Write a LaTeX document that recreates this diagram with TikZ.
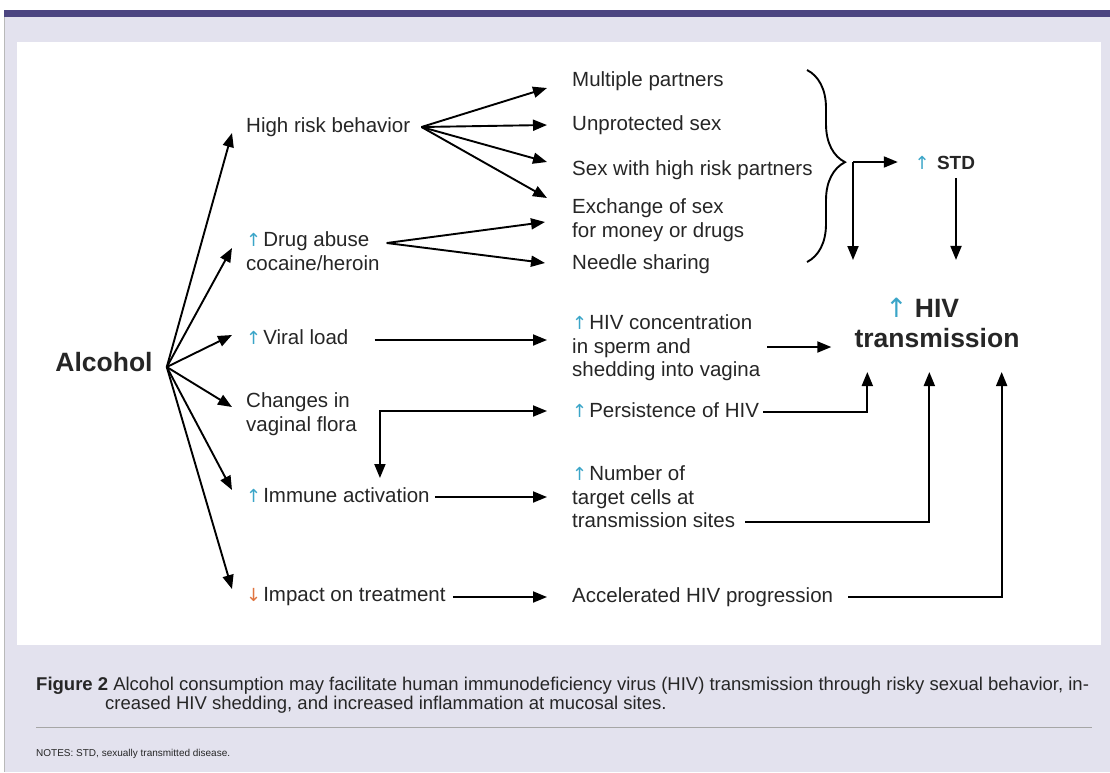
\documentclass[tikz,border=0pt]{standalone}
\usepackage{fontspec}
\setmainfont{Liberation Sans}
\newfontfamily\symfont{DejaVu Sans}
\usetikzlibrary{arrows.meta,calc,decorations.pathreplacing}
\definecolor{bgl}{HTML}{E3E2EE}
\definecolor{band}{HTML}{4C4581}
\definecolor{ink}{HTML}{262626}
\definecolor{upc}{HTML}{3AA5C8}
\definecolor{dnc}{HTML}{E0743F}
% coloured trend arrows, with their own spacing to the following word
\newcommand{\upa}{{\symfont\mdseries\fontsize{18}{18}\selectfont\textcolor{upc}{↑}}\kern2pt}
\newcommand{\dna}{{\symfont\mdseries\fontsize{18}{18}\selectfont\textcolor{dnc}{↓}}\kern2pt}
\begin{document}
\begin{tikzpicture}[x=1pt,y=-1pt,
  txt/.style={font=\fontsize{20.5}{23.5}\selectfont, text=ink, inner sep=0pt, anchor=west, align=left},
  big/.style={font=\bfseries\fontsize{26.5}{30}\selectfont, text=ink, inner sep=0pt},
  captext/.style={font=\fontsize{18.5}{18}\selectfont, text=ink, inner sep=0pt, anchor=base west},
  arr/.style={line width=1.9pt, -{Triangle[length=14pt,width=11pt]}},
  link/.style={line width=1.9pt}]
% page and panel
\useasboundingbox (0,0) rectangle (1110,772);
\fill[white] (0,0) rectangle (1110,772);
\fill[bgl] (4,10) rectangle (1110,772);
\draw[gray!55, line width=0.8pt] (4,10) -- (4,772);
\fill[band] (4,10) rectangle (1110,17);
\fill[white] (17,42) rectangle (1101,645);

% source
\node[big] (alc) at (104,362) {Alcohol};
\coordinate (fan) at ($(alc.east)+(14,5)$);

% first-level effects
\node[txt] (hrb)   at (246,127) {High risk behavior};
\node[txt] (drug)  at (246,251) {\upa Drug abuse\\cocaine/heroin};
\node[txt] (vir)   at (246,337) {\upa Viral load};
\node[txt] (flora) at (246,414) {Changes in\\vaginal flora};
\node[txt] (imm)   at (246,495) {\upa Immune activation};
\node[txt] (imp)   at (246,597) {\dna Impact on treatment};

% second-level effects
\node[txt] (mp)     at (572,81)  {Multiple partners};
\node[txt] (ups)    at (572,125) {Unprotected sex};
\node[txt] (shr)    at (572,170) {Sex with high risk partners};
\node[txt] (exch)   at (572,220) {Exchange of sex\\for money or drugs};
\node[txt] (needle) at (572,264) {Needle sharing};
\node[txt] (conc)   at (572,348) {\upa HIV concentration\\in sperm and\\shedding into vagina};
\node[txt] (pers)   at (572,410) {\upa Persistence of HIV};
\node[txt] (targ)   at (572,497) {\upa Number of\\target cells at\\transmission sites};
\node[txt] (acc)    at (572,597) {Accelerated HIV progression};

% outcomes
\node[font=\bfseries\fontsize{19}{22}\selectfont, text=ink, inner sep=0pt] (std) at (956,163) {\llap{\upa\ }STD};
\node[big, align=center] (hivt) at (937,323) {\llap{{\symfont\mdseries\textcolor{upc}{↑}}\ }HIV\\transmission};

% alcohol fan
\foreach \n/\dy in {hrb/6, drug/-3, vir/-2, flora/-7, imm/-5, imp/-8}
  \draw[arr] (fan) -- ($(\n.west)+(-14,\dy)$);

% high risk behaviour fan
\coordinate (hf) at ($(hrb.east)+(11,0)$);
\draw[arr] (hf) -- ($(mp.west)+(-25,7)$);
\draw[arr] (hf) -- ($(ups.west)+(-25,0)$);
\draw[arr] (hf) -- ($(shr.west)+(-25,-8)$);
\draw[arr] (hf) -- ($(exch.west)+(-25,-22)$);

% drug abuse fan
\coordinate (df) at ($(drug.east)+(7,-8)$);
\draw[arr] (df) -- ($(exch.west)+(-27,2)$);
\draw[arr] (df) -- ($(needle.west)+(-27,-1)$);

% horizontal links
\coordinate (va) at ($(vir.east)+(26,3)$);
\draw[arr, shorten >=25pt] (va) -- (va -| conc.west);
\coordinate (ca) at ($(conc.east)+(7,-1)$);
\draw[arr, shorten >=23pt] (ca) -- (ca -| hivt.west);
\coordinate (ia) at ($(imm.east)+(5,2)$);
\draw[arr, shorten >=25pt] (ia) -- (ia -| targ.west);
\coordinate (pa) at ($(imp.east)+(7,0)$);
\draw[arr, shorten >=25pt] (pa) -- (pa -| acc.west);

% vaginal flora branches
\coordinate (fc) at ($(flora.east)+(23,-3)$);
\draw[line width=1.9pt, {Triangle[length=14pt,width=11pt]}-{Triangle[length=14pt,width=11pt]}, shorten >=25pt]
  ($(fc)+(0,67)$) -- (fc) -- (fc -| pers.west);

% feeds into HIV transmission
\draw[arr] ($(pers.east)+(4,2)$) -| ($(hivt.west)+(13,49)$);
\draw[arr] ($(targ.east)+(10,25)$) -| ($(hivt.west)+(75,49)$);
\draw[arr] ($(acc.east)+(15,0)$) -| ($(hivt.east)+(-18,49)$);

% sexual risk brace and STD
\coordinate (bt) at (807,70);
\coordinate (bb) at (807,262);
\draw[link, decorate, decoration={brace, amplitude=38pt, aspect=0.48}] (bt) -- (bb);
\coordinate (bs) at (853,162);
\draw[arr] (bs) -- ($(std.west)+(-39,-1)$);
\draw[arr] (bs) -- ++(0,98);
\draw[arr] ($(std.south)+(0,8)$) -- ($(std.south)+(0,90)$);

% caption
\node[captext] (cap1) at (36,690) {\textbf{Figure 2} Alcohol consumption may facilitate human immunodeficiency virus (HIV) transmission through risky sexual behavior, in-};
\node[captext] (cap2) at (105,709) {creased HIV shedding, and increased inflammation at mucosal sites.};
\draw[gray!70, line width=1pt] (36,727) -- (1092,727);
\node[font=\fontsize{10}{12}\selectfont, text=ink, inner sep=0pt, anchor=west] (notes) at (36,754) {NOTES: STD, sexually transmitted disease.};
\end{tikzpicture}
\end{document}
